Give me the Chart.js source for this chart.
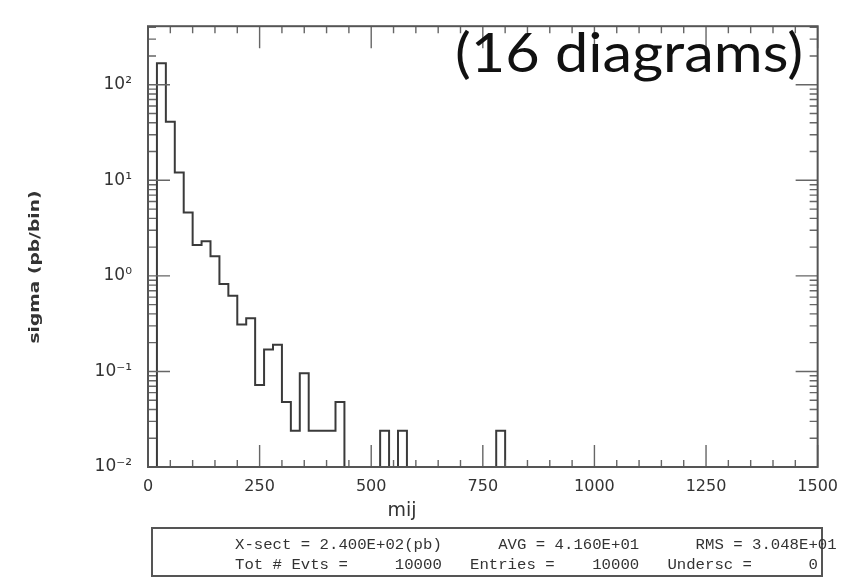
<!DOCTYPE html>
<html>
<head>
<meta charset="utf-8">
<script src="https://cdn.jsdelivr.net/npm/chart.js@4/dist/chart.umd.min.js"></script>
<style>
  body { margin: 0; background: #fff; }
  canvas { display: block; }
</style>
</head>
<body>
<canvas id="grafica" width="848" height="579"></canvas>
<script>
// bin edges in mij (left edge of each bin, plus the last right edge)
const binEdges = [0, 20, 40, 60, 80, 100, 120, 140, 160, 180, 200, 220, 240, 260, 280, 300,
  320, 340, 360, 380, 400, 420, 440, 460, 480, 500, 520, 540, 560, 580, 600, 620, 640, 660,
  680, 700, 720, 740, 760, 780, 800, 820, 840, 860, 880, 900, 920, 940, 960, 980, 1000,
  1020, 1040, 1060, 1080, 1100, 1120, 1140, 1160, 1180, 1200, 1220, 1240, 1260, 1280, 1300,
  1320, 1340, 1360, 1380, 1400, 1420, 1440, 1460, 1480, 1500];

// sigma (pb/bin) per bin
const sigma = [0, 168, 41, 12.1, 4.6, 2.1, 2.3, 1.6, 0.82, 0.62, 0.31, 0.36, 0.072, 0.17,
  0.19, 0.048, 0.024, 0.096, 0.024, 0.024, 0.024, 0.048, 0, 0, 0, 0, 0.024, 0, 0.024,
  0, 0, 0, 0, 0, 0, 0, 0, 0, 0, 0.024, 0, 0, 0, 0, 0, 0, 0, 0, 0, 0, 0, 0, 0, 0, 0, 0, 0,
  0, 0, 0, 0, 0, 0, 0, 0, 0, 0, 0, 0, 0, 0, 0, 0, 0, 0];

const xTicks = [0, 250, 500, 750, 1000, 1250, 1500];
const yTicks = [0.01, 0.1, 1, 10, 100];
const yTickLabels = ['10\u207B\u00B2', '10\u207B\u00B9', '10\u2070', '10\u00B9', '10\u00B2'];
const yMin = 0.01;
const yMax = 410;

const statLines = [
  'X-sect = 2.400E+02(pb)      AVG = 4.160E+01      RMS = 3.048E+01',
  'Tot # Evts =     10000   Entries =    10000   Undersc =      0'
];

const graph = document.querySelector('#grafica');

// empty bins sit on the bottom of the log axis
const points = binEdges.map((x, i) => {
  const v = i < sigma.length ? sigma[i] : sigma[sigma.length - 1];
  return { x: x, y: v > 0 ? v : yMin };
});

// frame, inward ticks and the extra texts
const framePlugin = {
  id: 'frame',
  afterDraw(chart) {
    const ctx = chart.ctx;
    const a = chart.chartArea;
    const xs = chart.scales.x;
    const ys = chart.scales.y;
    ctx.save();

    // ticks
    ctx.strokeStyle = '#666';
    ctx.lineWidth = 1.4;
    ctx.beginPath();
    for (let v = 0; v <= 1500; v += 50) {
      const px = xs.getPixelForValue(v);
      const len = v % 250 === 0 ? 22 : 7;
      ctx.moveTo(px, a.bottom); ctx.lineTo(px, a.bottom - len);
      ctx.moveTo(px, a.top); ctx.lineTo(px, a.top + len);
    }
    for (let d = -2; d <= 2; d++) {
      for (let m = 1; m <= 9; m++) {
        const v = m * Math.pow(10, d);
        if (v > ys.max) break;
        const py = ys.getPixelForValue(v);
        const len = m === 1 ? 22 : 8;
        ctx.moveTo(a.left, py); ctx.lineTo(a.left + len, py);
        ctx.moveTo(a.right, py); ctx.lineTo(a.right - len, py);
      }
    }
    ctx.stroke();

    // frame
    ctx.strokeStyle = '#555';
    ctx.lineWidth = 2;
    ctx.strokeRect(a.left, a.top, a.right - a.left, a.bottom - a.top);

    // axis titles
    ctx.fillStyle = '#333';
    ctx.font = '19px "DejaVu Sans"';
    ctx.textAlign = 'center';
    ctx.textBaseline = 'middle';
    ctx.fillText('mij', 402, 511);

    ctx.save();
    ctx.translate(35, 267);
    ctx.rotate(-Math.PI / 2);
    ctx.font = 'bold 14px "DejaVu Sans"';
    const w = ctx.measureText('sigma (pb/bin)').width;
    ctx.scale(153 / w, 1);
    ctx.fillText('sigma (pb/bin)', 0, 0);
    ctx.restore();

    // stats box
    ctx.strokeStyle = '#555';
    ctx.lineWidth = 2;
    ctx.strokeRect(152, 528, 670, 48);
    ctx.font = '14px "Liberation Mono"';
    ctx.textAlign = 'left';
    ctx.fillStyle = '#333';
    const cw = ctx.measureText('M').width;
    statLines.forEach((line, i) => {
      ctx.save();
      ctx.translate(235, 545 + i * 20);
      ctx.scale(9.4 / cw, 1);
      ctx.fillText(line, 0, 0);
      ctx.restore();
    });

    // big label
    ctx.fillStyle = '#111';
    ctx.font = '54px Lato';
    ctx.textBaseline = 'alphabetic';
    const tw = ctx.measureText('(16 diagrams)').width;
    ctx.save();
    ctx.translate(455, 72);
    ctx.scale(348 / tw, 1);
    ctx.fillText('(16 diagrams)', 0, 0);
    ctx.restore();

    ctx.restore();
  }
};

const data = {
  datasets: [{
    label: 'sigma',
    data: points,
    stepped: true,
    borderColor: '#3a3a3a',
    borderWidth: 2,
    pointRadius: 0,
    fill: false
  }]
};

const config = {
  type: 'line',
  data: data,
  options: {
    responsive: false,
    animation: false,
    layout: { padding: { top: 9, right: 30, left: 0, bottom: 0 } },
    plugins: { legend: { display: false }, tooltip: { enabled: false } },
    scales: {
      x: {
        type: 'linear',
        min: 0,
        max: 1500,
        afterBuildTicks: (s) => { s.ticks = xTicks.map(v => ({ value: v })); },
        afterFit: (s) => { s.height = 112; },
        grid: { display: false, drawTicks: false },
        border: { display: false },
        ticks: {
          padding: 10,
          maxRotation: 0,
          autoSkip: false,
          color: '#333',
          font: { family: 'DejaVu Sans', size: 16 },
          callback: (v) => String(v)
        }
      },
      y: {
        type: 'logarithmic',
        min: yMin,
        max: yMax,
        afterBuildTicks: (s) => { s.ticks = yTicks.map(v => ({ value: v })); },
        afterFit: (s) => { s.width = 148; },
        grid: { display: false, drawTicks: false },
        border: { display: false },
        ticks: {
          padding: 16,
          autoSkip: false,
          color: '#333',
          font: { family: 'DejaVu Sans', size: 17 },
          callback: (v) => {
            const i = yTicks.indexOf(v);
            return i >= 0 ? yTickLabels[i] : '';
          }
        }
      }
    }
  },
  plugins: [framePlugin]
};

new Chart(graph, config);
</script>
</body>
</html>
